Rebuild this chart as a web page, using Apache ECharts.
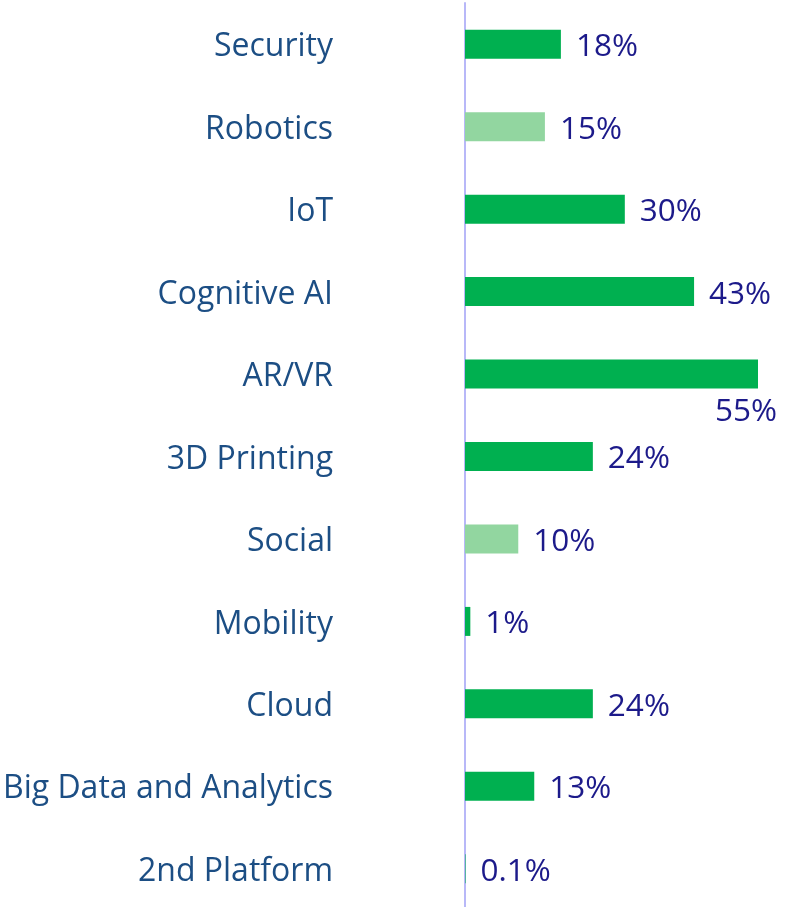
<!DOCTYPE html>
<html>
<head>
<meta charset="utf-8">
<script src="https://cdn.jsdelivr.net/npm/echarts@6/dist/echarts.min.js"></script>
<style>
    html, body { margin: 0; padding: 0; background: #fff; }
    #chart { width: 794px; height: 907px; }
</style>
</head>
<body>
<div id="chart"></div>
<script>
    // categories listed top to bottom
    var categories = ['Security', 'Robotics', 'IoT', 'Cognitive AI', 'AR/VR', '3D Printing',
        'Social', 'Mobility', 'Cloud', 'Big Data and Analytics', '2nd Platform'];
    var values = [18, 15, 30, 43, 55, 24, 10, 1, 24, 13, 0.1];
    // categories drawn in the lighter green
    var lightCats = ['Robotics', 'Social'];

    var chart = echarts.init(document.getElementById('chart'));

    var data = values.map(function (v, i) {
        var item = {
            value: v,
            itemStyle: { color: lightCats.indexOf(categories[i]) >= 0 ? '#92d6a0' : '#00b050' }
        };
        /*the biggest bar has its label tucked under the bar end*/
        if (v === 55) {
            item.label = { position: [250, 52], align: 'left', verticalAlign: 'middle', offset: [0, 0] };
        }
        return item;
    });

    var option = {
        animation: false,
        grid: { left: 465, right: 36, top: 3, height: 907, outerBoundsMode: 'none' },
        xAxis: {
            type: 'value',
            min: 0,
            max: 55,
            show: false
        },
        yAxis: {
            type: 'category',
            inverse: true,
            data: categories,
            axisLine: { show: true, lineStyle: { color: '#b8b8f8', width: 2 } },
            axisTick: { show: false },
            axisLabel: {
                margin: 132,
                formatter: function (v) { return '{c|' + v + '}'; },
                rich: {
                    c: {
                        color: '#1c4e84',
                        fontFamily: 'Open Sans',
                        fontSize: 32,
                        padding: [6, 0, 0, 0]
                    }
                }
            }
        },
        series: [{
            type: 'bar',
            barWidth: 29,
            data: data,
            label: {
                show: true,
                position: 'right',
                distance: 15,
                offset: [0, 3],
                color: '#1c1a8a',
                fontFamily: 'Open Sans',
                fontSize: 31.5,
                formatter: function (p) { return p.value + '%'; }
            }
        }]
    };
    chart.setOption(option);
</script>
</body>
</html>
